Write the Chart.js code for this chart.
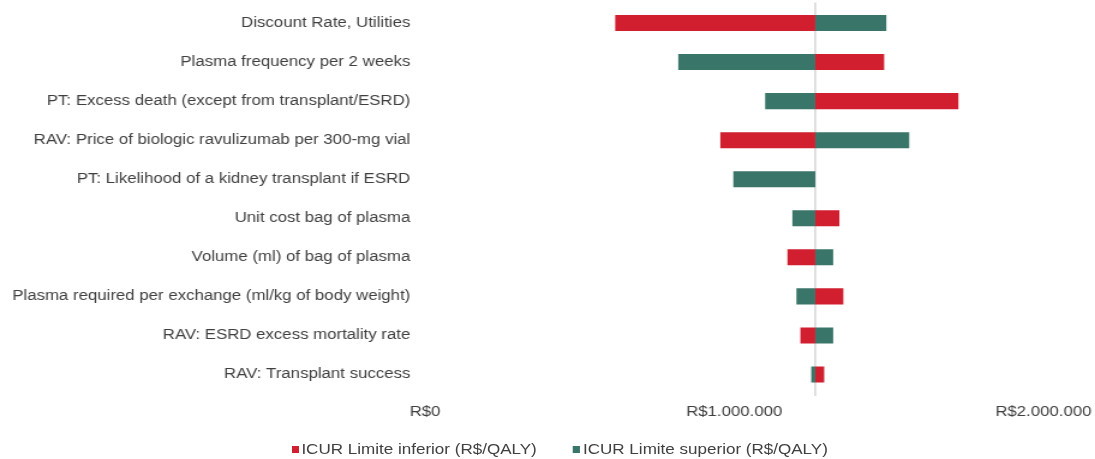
<!DOCTYPE html>
<html>
<head>
  <title>ICUR tornado</title>
  <script src="https://cdn.jsdelivr.net/npm/chart.js"></script>
  <style>
    body { margin: 0; background: #fff; overflow: hidden; }
    /* the original figure is stretched horizontally, so we draw narrow and stretch */
    #wrap { position: relative; width: 912px; height: 459px; transform: scaleX(1.2007); transform-origin: 0 0; }
    #legend { position: absolute; left: 242.5px; top: 441px; display: flex; align-items: center;
              font: 14.2px 'Liberation Sans', Arial, sans-serif; line-height: 17px; color: #404040; }
    #legend .item { display: flex; align-items: center; margin-right: 30px; }
    #legend .box { width: 6px; height: 7px; margin-right: 2.5px; }
  </style>
</head>
<body>
  <div id="wrap">
    <canvas id="myChart" width="912" height="459"></canvas>
    <div id="legend"></div>
  </div>

  <script>
    // Parameters shown in the tornado, top to bottom
    const categories = [
      'Discount Rate, Utilities',
      'Plasma frequency per 2 weeks',
      'PT: Excess death (except from transplant/ESRD)',
      'RAV: Price of biologic ravulizumab per 300-mg vial',
      'PT: Likelihood of a kidney transplant if ESRD',
      'Unit cost bag of plasma',
      'Volume (ml) of bag of plasma',
      'Plasma required per exchange (ml/kg of body weight)',
      'RAV: ESRD excess mortality rate',
      'RAV: Transplant success'
    ];

    // Base-case ICUR (where the bars meet)
    const baseICUR = 1262000;

    // ICUR at the lower / upper limit of each parameter (R$/QALY)
    const icurLower = [615000, 1485000, 1725000, 955000, 1262000, 1340000, 1172000, 1353000, 1214000, 1291000];
    const icurUpper = [1492000, 819000, 1100000, 1566000, 997000, 1188000, 1320000, 1201000, 1320000, 1249000];

    const axisMin = 0;
    const axisMax = 2000000;
    const axisStep = 1000000;

    const formatBRL = v => 'R$' + Math.round(v).toString().replace(/\B(?=(\d{3})+(?!\d))/g, '.');

    const textColor = '#404040';

    // light grey vertical line at the base case
    const baseLine = {
      id: 'baseLine',
      beforeDatasetsDraw(chart) {
        const x = chart.scales.x.getPixelForValue(baseICUR);
        const area = chart.chartArea;
        const ctx = chart.ctx;
        ctx.save();
        ctx.strokeStyle = '#d9d9d9';
        ctx.lineWidth = 1.7;
        ctx.beginPath();
        ctx.moveTo(x, area.top - 1);
        ctx.lineTo(x, area.bottom + 2);
        ctx.stroke();
        ctx.restore();
      }
    };

    // html legend built from the datasets (built-in one can't do the wide gap without huge vertical padding)
    const htmlLegend = {
      id: 'htmlLegend',
      afterUpdate(chart) {
        const box = document.getElementById('legend');
        box.innerHTML = '';
        chart.data.datasets.forEach(ds => {
          const item = document.createElement('span');
          item.className = 'item';
          const sw = document.createElement('span');
          sw.className = 'box';
          sw.style.background = ds.backgroundColor;
          const txt = document.createElement('span');
          txt.textContent = ds.label;
          item.appendChild(sw);
          item.appendChild(txt);
          box.appendChild(item);
        });
      }
    };

    const ctx = document.getElementById('myChart').getContext('2d');
    const myChart = new Chart(ctx, {
      type: 'bar',
      data: {
        labels: categories,
        datasets: [{
          label: 'ICUR Limite inferior (R$/QALY)',
          data: icurLower.map(v => [baseICUR, v]),
          backgroundColor: '#d11f30',
          borderSkipped: false,
          grouped: false,
          barPercentage: 0.41,
          categoryPercentage: 1
        }, {
          label: 'ICUR Limite superior (R$/QALY)',
          data: icurUpper.map(v => [baseICUR, v]),
          backgroundColor: '#3a756a',
          borderSkipped: false,
          grouped: false,
          barPercentage: 0.41,
          categoryPercentage: 1
        }]
      },
      options: {
        indexAxis: 'y',
        responsive: false,
        animation: false,
        layout: { padding: { top: 3.5, right: 43, bottom: 28.2, left: 0 } },
        scales: {
          x: {
            min: axisMin,
            max: axisMax,
            grid: { display: false, drawTicks: false },
            border: { display: false },
            ticks: {
              stepSize: axisStep,
              padding: 10,
              maxRotation: 0,
              color: textColor,
              font: { family: 'Liberation Sans', size: 14 },
              callback: v => formatBRL(v)
            },
            afterFit: scale => {
              scale.paddingLeft = 0;
              scale.paddingRight = 0;
            }
          },
          y: {
            grid: { display: false, drawTicks: false },
            border: { display: false },
            ticks: {
              padding: 12.3,
              color: textColor,
              font: { family: 'Liberation Sans', size: 14 }
            },
            afterFit: scale => {
              scale.width = 354;
              scale.paddingTop = 0;
              scale.paddingBottom = 0;
            }
          }
        },
        plugins: {
          legend: { display: false },
          tooltip: { enabled: false }
        }
      },
      plugins: [baseLine, htmlLegend]
    });
  </script>
</body>
</html>
